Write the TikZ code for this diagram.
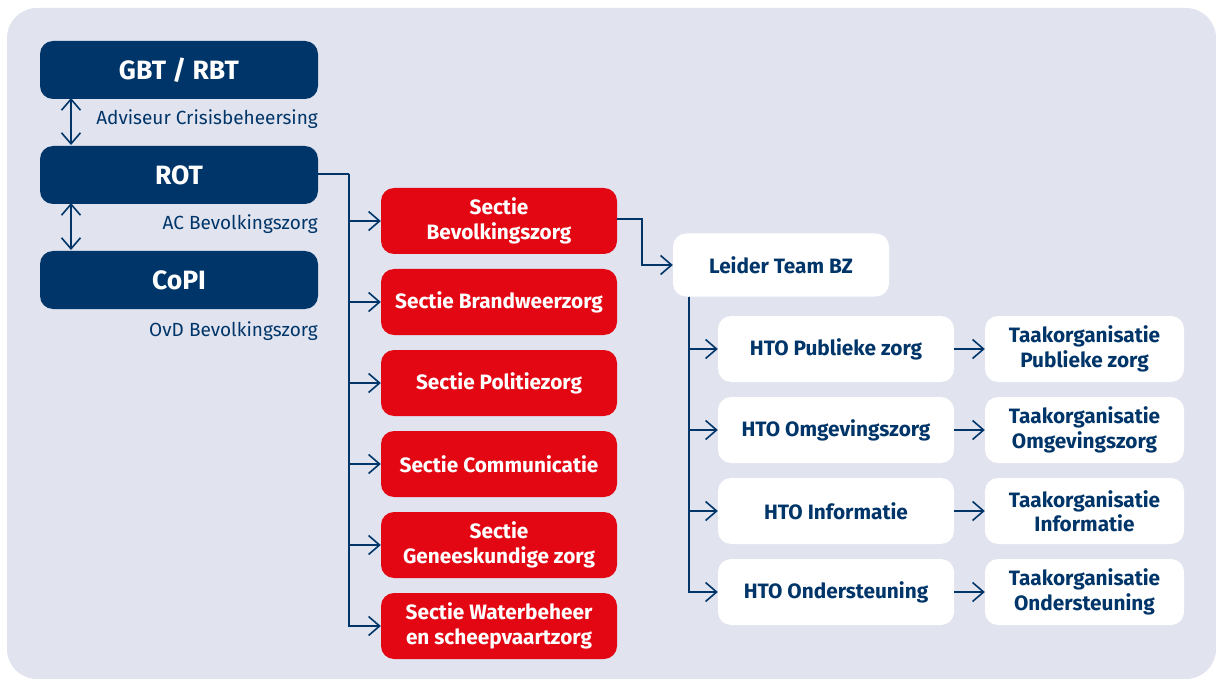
\documentclass[tikz,border=0pt]{standalone}
\usepackage{fontspec}
\setmainfont{Fira Sans}
\usetikzlibrary{arrows.meta}
\definecolor{navy}{HTML}{003569}
\definecolor{rood}{HTML}{E30613}
\definecolor{bgc}{HTML}{E1E3EF}
\begin{document}
\begin{tikzpicture}[x=1pt,y=-1pt,
  box/.style={rectangle, rounded corners=13pt, align=center, inner sep=0pt},
  topbox/.style={box, fill=navy, text=white, minimum width=278pt, minimum height=58pt, font=\bfseries\fontsize{26.5}{30}\selectfont},
  redbox/.style={box, fill=rood, text=white, minimum width=236pt, minimum height=66pt, font=\bfseries\fontsize{20.8}{24.5}\selectfont},
  whitebox/.style={box, fill=white, text=navy, minimum height=66pt, font=\bfseries\fontsize{20.8}{24.5}\selectfont},
  lbl/.style={anchor=east, text=navy, inner sep=0pt, font=\fontsize{19}{22}\selectfont},
  conn/.style={draw=navy, line width=1.6pt},
  arr/.style={conn, -{Straight Barb[length=11pt,width=19pt,line width=1.6pt]}},
  darr/.style={conn, {Straight Barb[length=11pt,width=19pt,line width=1.6pt]}-{Straight Barb[length=11pt,width=19pt,line width=1.6pt]}}
]
\useasboundingbox (0,0) rectangle (1216,679);
\fill[bgc, rounded corners=30pt] (7,8) rectangle (1216,679);

% left column
\node[topbox] (gbt) at (179,70) {GBT / RBT};
\node[topbox] (rot) at (179,175) {ROT};
\node[topbox] (copi) at (179,280) {CoPI};
\node[lbl] (l1) at (318,119) {Adviseur Crisisbeheersing};
\node[lbl] (l2) at (318,224) {AC Bevolkingszorg};
\node[lbl] (l3) at (318,331) {OvD Bevolkingszorg};

\coordinate (g1) at (71,98);
\coordinate (r1) at (71,145);
\coordinate (r2) at (71,203);
\coordinate (c1) at (71,250);
\draw[darr] (g1) -- (r1);
\draw[darr] (r2) -- (c1);

% red sections
\node[redbox] (s1) at (499,221) {Sectie\\Bevolkingszorg};
\node[redbox] (s2) at (499,302) {Sectie Brandweerzorg};
\node[redbox] (s3) at (499,383) {Sectie Politiezorg};
\node[redbox] (s4) at (499,464) {Sectie Communicatie};
\node[redbox] (s5) at (499,545) {Sectie\\Geneeskundige zorg};
\node[redbox] (s6) at (499,626) {Sectie Waterbeheer\\en scheepvaartzorg};

\coordinate (j) at (349,174);
\draw[conn] (318,174) -- (j);
\foreach \s in {s1,s2,s3,s4,s5,s6} {\draw[arr] (j) |- (\s.west);}

% leider
\node[whitebox, minimum width=216pt, minimum height=63pt] (leider) at (781,265) {Leider Team BZ};
\coordinate (b1) at (642,219);
\draw[arr] (617,219) -- (b1) |- (leider.west);

% HTO
\node[whitebox, minimum width=236pt] (h1) at (836,349) {HTO Publieke zorg};
\node[whitebox, minimum width=236pt] (h2) at (836,430) {HTO Omgevingszorg};
\node[whitebox, minimum width=236pt] (h3) at (836,511) {HTO Informatie};
\node[whitebox, minimum width=236pt] (h4) at (836,592) {HTO Ondersteuning};

\node[whitebox, minimum width=199pt] (t1) at (1084.5,349) {Taakorganisatie\\Publieke zorg};
\node[whitebox, minimum width=199pt] (t2) at (1084.5,430) {Taakorganisatie\\Omgevingszorg};
\node[whitebox, minimum width=199pt] (t3) at (1084.5,511) {Taakorganisatie\\Informatie};
\node[whitebox, minimum width=199pt] (t4) at (1084.5,592) {Taakorganisatie\\Ondersteuning};

\coordinate (k) at (689,296.5);
\foreach \h in {h1,h2,h3,h4} {\draw[arr] (k) |- (\h.west);}
\foreach \i in {1,2,3,4} {\draw[arr] (h\i.east) -- (t\i.west);}
\end{tikzpicture}
\end{document}
